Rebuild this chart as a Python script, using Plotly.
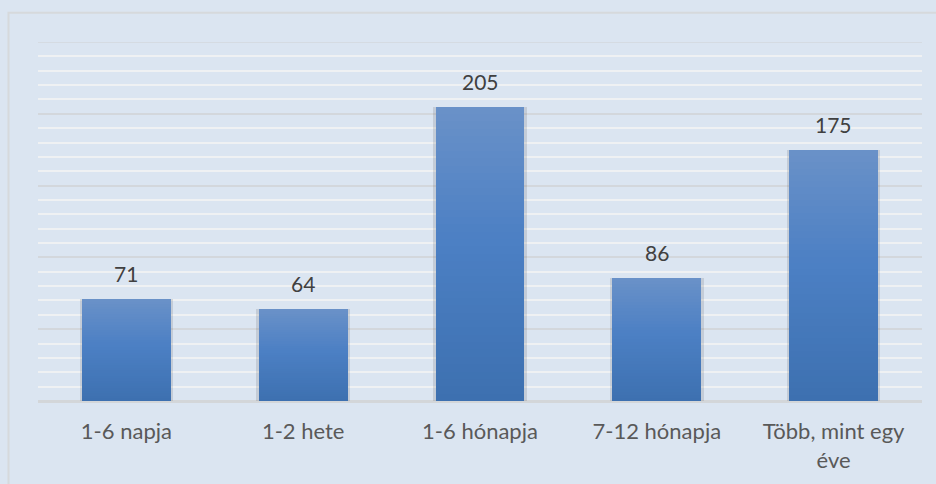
import plotly.graph_objects as go

categories = ["1-6 napja", "1-2 hete", "1-6 hónapja", "7-12 hónapja", "Több, mint egy<br>éve"]
values = [71, 64, 205, 86, 175]

BG = "#dbe5f1"
TEXT = "#595959"
LABEL = "#404040"
FONT = "Lato"

stops = [(0.0, (106, 145, 200)), (0.45, (76, 128, 196)), (1.0, (61, 112, 176))]


def grad(t):
    for (t0, c0), (t1, c1) in zip(stops[:-1], stops[1:]):
        if t <= t1:
            f = (t - t0) / (t1 - t0)
            return "rgb(%d,%d,%d)" % tuple(round(a + (b - a) * f) for a, b in zip(c0, c1))
    return "rgb(%d,%d,%d)" % stops[-1][1]


fig = go.Figure()

# soft shadow
fig.add_trace(go.Bar(x=categories, y=values, width=0.53,
                     marker=dict(color="rgba(60,60,60,0.14)", line=dict(width=0)),
                     hoverinfo="skip", showlegend=False))

N = 40
for k in range(N):
    frac = 1 - k / N
    fig.add_trace(go.Bar(
        x=categories, y=[v * frac for v in values], width=0.503,
        marker=dict(color=grad((k + 0.5) / N), line=dict(width=0)),
        hoverinfo="skip", showlegend=False))

for c, v in zip(categories, values):
    fig.add_annotation(x=c, y=v, text=str(v), showarrow=False, yanchor="bottom",
                       yshift=11, font=dict(family=FONT, size=21, color=LABEL))

# outer chart frame
fig.add_shape(type="rect", xref="paper", yref="paper",
              x0=-29.5 / 884, x1=1.2, y0=-0.5, y1=1 + 29.2 / 359.3,
              line=dict(color="#d6d9dc", width=2), fillcolor="rgba(0,0,0,0)", layer="below")
# top major gridline (edge of the value range)
fig.add_shape(type="line", xref="paper", yref="y", x0=0, x1=1, y0=250, y1=250,
              line=dict(color="#d3d7dc", width=1.6), layer="below")

fig.update_layout(
    width=936, height=484,
    margin=dict(l=38, r=14, t=42, b=83),
    paper_bgcolor=BG, plot_bgcolor=BG,
    barmode="overlay", bargap=0,
    font=dict(family=FONT, size=22, color=TEXT),
    showlegend=False,
)
fig.update_xaxes(showgrid=False, showline=False, ticks="", tickfont=dict(family=FONT, size=22, color=TEXT),
                 ticklabelstandoff=15, zeroline=False)
fig.update_yaxes(range=[0, 250], dtick=50, showgrid=True, gridcolor="#d3d7dc", gridwidth=1.6,
                 minor=dict(dtick=10, showgrid=True, gridcolor="#eff1f3", gridwidth=1.6),
                 showticklabels=False, zeroline=True, zerolinecolor="#d3d6d9", zerolinewidth=2.5,
                 showline=False)

fig.write_html("out.html", config={"displayModeBar": False},
               post_script="document.body.style.margin='0px';document.body.style.overflow='hidden';")
